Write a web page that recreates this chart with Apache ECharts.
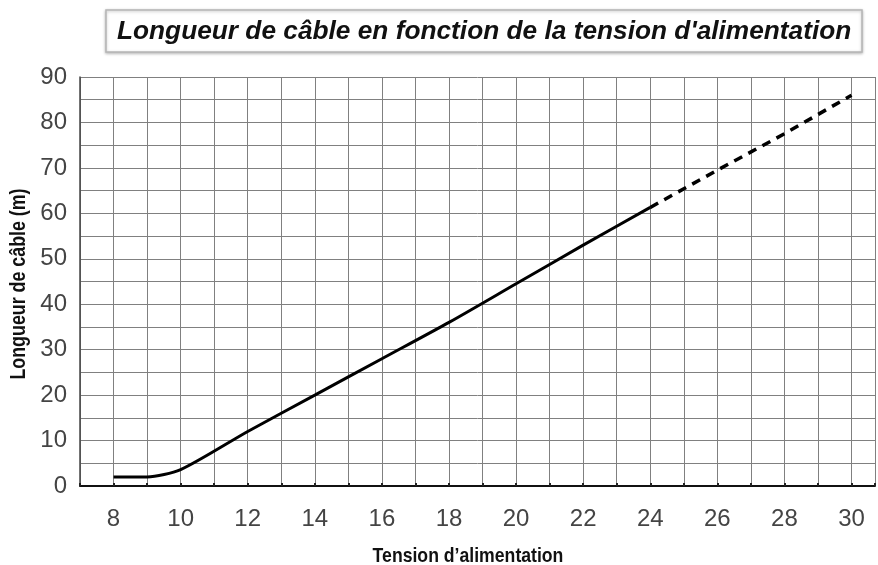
<!DOCTYPE html>
<html><head><meta charset="utf-8">
<script src="https://cdn.jsdelivr.net/npm/echarts@6/dist/echarts.min.js"></script>
<style>html,body{margin:0;padding:0;background:#fff}#c{width:878px;height:565px}</style>
</head><body><div id="c"></div>
<script>
const titleText = "Longueur de câble en fonction de la tension d'alimentation";
const xName = "Tension d’alimentation";
const yName = "Longueur de câble (m)";
const solidX = [8, 9, 10, 12, 14, 16, 18, 20, 22, 24];
const solidY = [2, 2, 3.6, 12, 20, 28, 36, 44.5, 53, 61.3];
const dashX = [24, 26, 28, 30];
const dashY = [61.3, 69.5, 77.5, 86];

const chart = echarts.init(document.getElementById('c'));
chart.setOption({
  animation: false,
  backgroundColor: '#fff',
  grid: { left: 80, right: 0, top: 77, bottom: 79, containLabel: false },
  graphic: [
    { type: 'rect', shape: { x: 106, y: 10, width: 756, height: 42 },
      style: { fill: '#fff', stroke: '#b5b5b5', lineWidth: 1.5,
               shadowColor: 'rgba(0,0,0,0.25)', shadowBlur: 3, shadowOffsetY: 1 } },
    { type: 'text', x: 117, y: 32, scaleX: 1.01,
      style: { text: titleText, font: 'italic bold 26px "Liberation Sans", Arial, sans-serif', fill: '#111',
               verticalAlign: 'middle', align: 'left' } },
    { type: 'text', x: 468, y: 556, scaleX: 0.84,
      style: { text: xName, font: 'bold 21px "Liberation Sans", Arial', fill: '#111',
               verticalAlign: 'middle', align: 'center' } },
    { type: 'text', x: 19, y: 284, rotation: Math.PI / 2, scaleX: 0.81,
      style: { text: yName, font: 'bold 22px "Liberation Sans", Arial', fill: '#111',
               verticalAlign: 'middle', align: 'center' } }
  ],
  xAxis: {
    type: 'value', min: 7, max: 30.7, interval: 1,
    axisLine: { show: true, onZero: false, lineStyle: { color: '#111', width: 2 } },
    axisTick: { show: true, length: 3, inside: true, lineStyle: { color: '#222', width: 2 } },
    axisLabel: { margin: 21, fontSize: 24, color: '#444', fontFamily: '"Liberation Sans", Arial',
      formatter: v => (v % 2 === 0 ? String(v) : '') },
    splitLine: { show: true, lineStyle: { color: '#808080', width: 1 } }
  },
  yAxis: {
    type: 'value', min: 0, max: 90, interval: 5,
    axisLine: { show: true, lineStyle: { color: '#444', width: 1.5 } },
    axisTick: { show: false },
    axisLabel: { margin: 13, fontSize: 24, color: '#444', fontFamily: '"Liberation Sans", Arial',
      formatter: v => (v % 10 === 0 ? String(v) : '') },
    splitLine: { show: true, lineStyle: { color: '#808080', width: 1 } }
  },
  series: [
    { type: 'line', data: solidX.map((x, i) => [x, solidY[i]]), smooth: 0.25, symbol: 'none',
      lineStyle: { color: '#000', width: 3 } },
    { type: 'line', data: dashX.map((x, i) => [x, dashY[i]]), symbol: 'none',
      lineStyle: { color: '#000', width: 3.5, type: [9, 7] } }
  ]
});
</script></body></html>
